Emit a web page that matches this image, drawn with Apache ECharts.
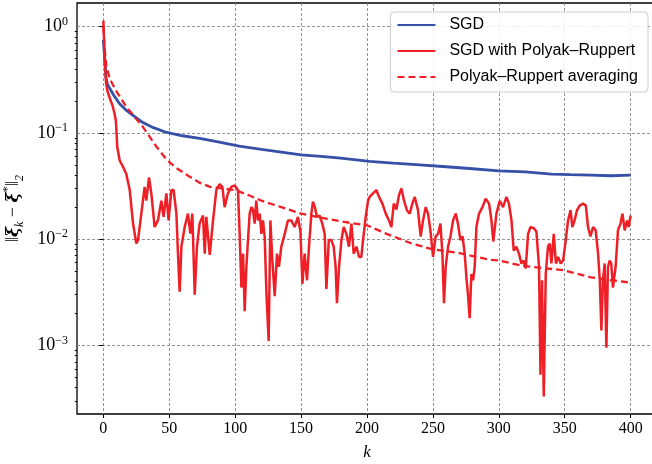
<!DOCTYPE html>
<html>
<head>
<meta charset="utf-8">
<script src="https://cdn.jsdelivr.net/npm/echarts@6/dist/echarts.min.js"></script>
<style>
  html, body { margin: 0; padding: 0; background: #fff; }
  #chart { width: 652px; height: 464px; }
</style>
</head>
<body>
<div id="chart"></div>
<script>
  // ticks
  const xTicks = [0, 50, 100, 150, 200, 250, 300, 350, 400]
  const yTicks = [1e-3, 1e-2, 1e-1, 1]
  const yMinor = [3e-4, 4e-4, 5e-4, 6e-4, 7e-4, 8e-4, 9e-4,
    2e-3, 3e-3, 4e-3, 5e-3, 6e-3, 7e-3, 8e-3, 9e-3,
    2e-2, 3e-2, 4e-2, 5e-2, 6e-2, 7e-2, 8e-2, 9e-2,
    0.2, 0.3, 0.4, 0.5, 0.6, 0.7, 0.8, 0.9]

  // SGD
  const sgdK = [0, 1, 2, 3, 5, 8, 12, 17, 23, 30, 38, 48, 60, 73, 88, 103, 120, 135, 150, 165, 180, 202, 220, 240, 260, 280, 300, 320, 340, 354, 370, 385, 400]
  const sgdV = [0.75, 0.5, 0.33, 0.29, 0.26, 0.225, 0.19, 0.165, 0.145, 0.125, 0.112, 0.101, 0.094, 0.089, 0.082, 0.075, 0.070, 0.066, 0.062, 0.060, 0.058, 0.054, 0.052, 0.050, 0.048, 0.046, 0.044, 0.043, 0.041, 0.0405, 0.040, 0.0395, 0.040]

  // SGD with Polyak-Ruppert (noisy)
  const prK = [0, 1, 2, 3, 5, 7, 8.6, 9.5, 10, 10.5, 12.4, 14.9, 17.4, 20, 22.5, 25, 26.3, 28.8, 31.3, 32.6, 34.6, 36.4, 38.9, 41.4, 44, 45.7, 47.8, 49.5, 51.6, 53.3, 55.4, 56.6, 57.9, 59.2, 61.7, 64.2, 66, 67.5, 69.3, 71, 73, 75.6, 76.9, 78.1, 80.7, 83.2, 85.7, 88.2, 90.3, 92, 94.5, 97.1, 99.6, 102.1, 103.4, 104.7, 106, 107.2, 108.5, 109.7, 111, 112.3, 113.5, 114.8, 116, 117.3, 118.6, 119.9, 121.1, 122.4, 123.7, 125.4, 126.7, 128.2, 130, 131.7, 133.2, 135, 137.6, 140, 142.6, 145.1, 147.6, 149.5, 151, 152.7, 154.5, 156, 157.8, 159, 160.5, 162, 164, 166.1, 167.9, 169.2, 171, 173, 174.7, 176.2, 177.2, 178.8, 180.6, 182.3, 184.4, 186.3, 188.2, 189.9, 192, 194, 195.7, 197, 199, 200.8, 202, 204.6, 207.1, 209.1, 211.7, 214.2, 216.7, 218.5, 220.3, 222.3, 224.3, 226.1, 228.1, 230.3, 232.4, 234.4, 236.2, 238.7, 240.7, 242.5, 244.5, 246.3, 248.1, 250.1, 252.1, 253.9, 255.7, 257.2, 258.4, 259.7, 261.5, 263.3, 265.3, 267.3, 269, 270.9, 272.5, 274.1, 275.4, 276.6, 277.9, 279.2, 280.5, 281.7, 283, 285, 287.6, 290, 292.6, 294.4, 295.8, 298.2, 300.7, 303.2, 305.8, 307.7, 309.6, 311.3, 313.3, 315.3, 317.1, 318.8, 320.4, 322.2, 324, 326.5, 328.5, 330.5, 331.6, 332.8, 334.1, 335.6, 337.3, 338.6, 339.9, 341.7, 343.3, 345, 347, 348.8, 350.8, 352.5, 354.4, 355.8, 357.5, 359.3, 361.4, 363.9, 366, 367.7, 369.5, 371.5, 373.5, 375.3, 376.6, 377.8, 379, 380.3, 381.6, 382.8, 384.1, 385.3, 386.6, 388.6, 390.4, 392.3, 393.8, 395.5, 397.3, 398.5, 400]
  const prV = [1.14, 0.5, 0.3, 0.25, 0.21, 0.18, 0.15, 0.13, 0.1, 0.074, 0.055, 0.048, 0.041, 0.029, 0.0141, 0.0091, 0.0098, 0.0174, 0.031, 0.023, 0.038, 0.027, 0.013, 0.015, 0.023, 0.0162, 0.027, 0.015, 0.029, 0.029, 0.0174, 0.0073, 0.0032, 0.0085, 0.013, 0.0174, 0.0113, 0.0174, 0.003, 0.0085, 0.014, 0.0167, 0.0073, 0.0162, 0.0071, 0.015, 0.029, 0.033, 0.031, 0.02, 0.027, 0.031, 0.032, 0.029, 0.0112, 0.0035, 0.0073, 0.0021, 0.0055, 0.0098, 0.0174, 0.02, 0.019, 0.014, 0.023, 0.015, 0.0174, 0.0112, 0.015, 0.0105, 0.0031, 0.0011, 0.015, 0.0063, 0.0029, 0.0073, 0.0055, 0.0085, 0.0112, 0.015, 0.015, 0.013, 0.0162, 0.0118, 0.0038, 0.0073, 0.0041, 0.0085, 0.0174, 0.0225, 0.020, 0.0162, 0.0167, 0.014, 0.0112, 0.0034, 0.0098, 0.0098, 0.0085, 0.0055, 0.0025, 0.0055, 0.0098, 0.013, 0.0112, 0.0085, 0.014, 0.0073, 0.0085, 0.0068, 0.0068, 0.0098, 0.0162, 0.023, 0.025, 0.027, 0.029, 0.025, 0.0216, 0.0174, 0.015, 0.013, 0.0216, 0.019, 0.026, 0.030, 0.023, 0.0187, 0.0174, 0.0216, 0.025, 0.0187, 0.0106, 0.015, 0.020, 0.0174, 0.0121, 0.0068, 0.0106, 0.0112, 0.014, 0.0073, 0.0025, 0.0055, 0.0085, 0.0106, 0.015, 0.0174, 0.014, 0.0098, 0.0106, 0.0073, 0.0044, 0.003, 0.0018, 0.0047, 0.0041, 0.0055, 0.013, 0.0174, 0.02, 0.024, 0.0216, 0.015, 0.0095, 0.0174, 0.023, 0.020, 0.025, 0.0216, 0.015, 0.0078, 0.0085, 0.0073, 0.0059, 0.0063, 0.0053, 0.0112, 0.013, 0.0127, 0.0118, 0.0055, 0.00053, 0.0041, 0.00033, 0.0047, 0.0085, 0.0091, 0.0059, 0.0112, 0.0059, 0.0068, 0.0059, 0.0063, 0.0098, 0.015, 0.0187, 0.013, 0.015, 0.0187, 0.0207, 0.0216, 0.0207, 0.013, 0.0106, 0.013, 0.0121, 0.0073, 0.0041, 0.00138, 0.0041, 0.0059, 0.00095, 0.0055, 0.0063, 0.0059, 0.0035, 0.0055, 0.0121, 0.014, 0.0174, 0.0121, 0.015, 0.013, 0.0167]

  // Polyak-Ruppert averaging
  const avgK = [0, 1, 2.3, 5, 10, 17.4, 24, 30, 40, 48, 55, 65, 73, 81, 90, 100, 110, 120, 135, 150, 170, 189, 200, 215, 234, 250, 270, 293, 300, 318, 349, 369, 385, 400]
  const avgV = [1.0, 0.62, 0.42, 0.32, 0.245, 0.176, 0.14, 0.114, 0.075, 0.056, 0.047, 0.039, 0.034, 0.031, 0.030, 0.029, 0.026, 0.023, 0.020, 0.0174, 0.0155, 0.0141, 0.0135, 0.0112, 0.0091, 0.008, 0.0074, 0.0064, 0.0063, 0.0056, 0.0051, 0.0044, 0.0041, 0.0039]

  const zip = (ks, vs) => ks.map((k, i) => [k, vs[i]])

  const blue = '#3650a8'
  const red = '#ee1f26'
  const gridLine = {
    show: true,
    lineStyle: { color: '#7a7a7a', width: 0.8, type: [3, 2] },
  }
  const supFmt = v => {
    const e = Math.round(Math.log10(v))
    return '{b|10}{e|' + (e < 0 ? '\u2212' + (-e) : e) + '}'
  }

  const chart = echarts.init(document.getElementById('chart'))
  chart.setOption({
    animation: false,
    backgroundColor: '#fff',
    grid: {
      left: 77,
      top: 3,
      right: -5,
      bottom: 50,
      containLabel: false,
      outerBoundsMode: 'none',
      show: true,
      borderColor: '#000',
      borderWidth: 1.3,
    },
    legend: {
      right: 4,
      top: 12,
      orient: 'vertical',
      padding: [5, 10, 7, 6],
      itemWidth: 38,
      itemHeight: 14,
      itemGap: 10,
      itemStyle: { opacity: 0 },
      backgroundColor: 'rgba(255,255,255,0.85)',
      borderColor: '#cccccc',
      borderWidth: 1,
      borderRadius: 4,
      textStyle: {
        fontFamily: 'Liberation Sans',
        fontSize: 16,
        lineHeight: 16,
        color: '#000',
        padding: [0, 0, 0, 9],
      },
      data: ['SGD', 'SGD with Polyak\u2013Ruppert', 'Polyak\u2013Ruppert averaging'],
    },
    xAxis: {
      type: 'value',
      min: -20,
      max: 420,
      name: 'k',
      nameLocation: 'middle',
      nameGap: 30,
      nameTextStyle: {
        fontFamily: 'Liberation Serif',
        fontStyle: 'italic',
        fontSize: 17,
        color: '#000',
      },
      axisLine: { show: false },
      axisTick: {
        show: true,
        length: 4,
        lineStyle: { color: '#000', width: 1 },
        customValues: xTicks,
      },
      axisLabel: {
        customValues: xTicks,
        margin: 7,
        color: '#000',
        fontFamily: 'Liberation Serif',
        fontSize: 16,
      },
      splitLine: gridLine,
    },
    yAxis: [
      {
        type: 'log',
        position: 'left',
        min: 2.26e-4,
        max: 1.67,
        name: '{n|\u2016}{x|\u03be}{s|k}{n| \u2212 }{x|\u03be}{p|*}{n|\u2016}{s|2}',
        nameLocation: 'middle',
        nameRotate: 90,
        nameGap: 49,
        nameTextStyle: {
          rich: {
            n: { fontFamily: 'Liberation Serif', fontSize: 18, color: '#000', lineHeight: 18, padding: [0, 0, 4, 0], verticalAlign: 'bottom' },
            x: { fontFamily: 'DejaVu Serif', fontSize: 17, fontWeight: 'bold', fontStyle: 'italic', color: '#000', lineHeight: 18, padding: [0, 0, 4, 0], verticalAlign: 'bottom' },
            s: { fontFamily: 'Liberation Serif', fontStyle: 'italic', fontSize: 12, color: '#000', lineHeight: 12, verticalAlign: 'bottom' },
            p: { fontFamily: 'Liberation Serif', fontSize: 13, color: '#000', lineHeight: 13, padding: [0, 0, 12, 0], verticalAlign: 'bottom' },
          },
        },
        axisLine: { show: false },
        axisTick: {
          show: true,
          length: 4,
          lineStyle: { color: '#000', width: 1 },
          customValues: yTicks,
        },
        axisLabel: {
          customValues: yTicks,
          margin: 9,
          formatter: supFmt,
          rich: {
            b: { fontFamily: 'Liberation Serif', fontSize: 18, color: '#000', lineHeight: 18, verticalAlign: 'bottom' },
            e: { fontFamily: 'Liberation Serif', fontSize: 12, color: '#000', lineHeight: 12, padding: [0, 0, 8, 0], verticalAlign: 'bottom' },
          },
        },
        splitLine: gridLine,
      },
      {
        type: 'log',
        position: 'left',
        offset: 0,
        min: 2.26e-4,
        max: 1.67,
        axisLine: { show: false },
        axisTick: {
          show: true,
          length: 2.2,
          lineStyle: { color: '#000', width: 1 },
          customValues: yMinor,
        },
        axisLabel: { show: false },
        splitLine: { show: false },
      },
    ],
    series: [
      {
        name: 'SGD',
        type: 'line',
        symbol: 'none',
        lineStyle: { color: blue, width: 2.8 },
        itemStyle: { color: blue },
        data: zip(sgdK, sgdV),
      },
      {
        name: 'SGD with Polyak\u2013Ruppert',
        type: 'line',
        symbol: 'none',
        lineStyle: { color: red, width: 2.5 },
        itemStyle: { color: red },
        data: zip(prK, prV),
      },
      {
        name: 'Polyak\u2013Ruppert averaging',
        type: 'line',
        symbol: 'none',
        lineStyle: { color: red, width: 2.3, type: [7, 4] },
        itemStyle: { color: red },
        data: zip(avgK, avgV),
      },
    ],
  })
</script>
</body>
</html>
